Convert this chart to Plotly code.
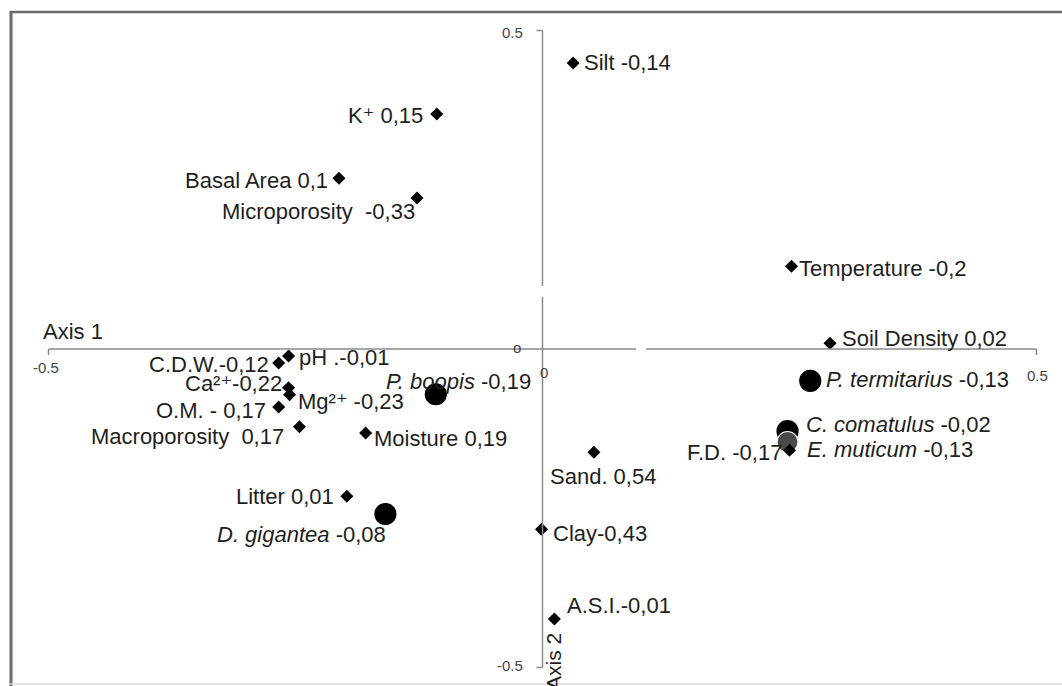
import plotly.graph_objects as go

# Environmental variables (diamonds): ordination scores on axis 1 / axis 2
var_names = ["Silt", "K+", "Basal Area", "Microporosity", "Temperature", "Soil Density",
             "pH", "C.D.W.", "Ca2+", "Mg2+", "O.M.", "Macroporosity", "Moisture",
             "Litter", "Sand", "Clay", "A.S.I.", "F.D."]
var_axis1 = [0.031, -0.107, -0.206, -0.127, 0.252, 0.291,
             -0.257, -0.267, -0.257, -0.256, -0.267, -0.246, -0.179,
             -0.198, 0.052, -0.001, 0.012, 0.250]
var_axis2 = [0.449, 0.369, 0.268, 0.237, 0.130, 0.009,
             -0.011, -0.022, -0.061, -0.072, -0.091, -0.122, -0.132,
             -0.231, -0.162, -0.283, -0.424, -0.159]
var_labels = ["Silt -0,14", "K⁺ 0,15", "Basal Area 0,1", "Microporosity  -0,33",
              "Temperature -0,2", "Soil Density 0,02", "pH .-0,01", "C.D.W.-0,12",
              "Ca²⁺-0,22", "Mg²⁺ -0,23", "O.M. - 0,17",
              "Macroporosity  0,17", "Moisture 0,19", "Litter 0,01", "Sand. 0,54",
              "Clay-0,43", "A.S.I.-0,01", "F.D. -0,17"]

# Species (large dots)
sp_names = ["P. boopis", "D. gigantea", "P. termitarius", "C. comatulus", "E. muticum"]
sp_axis1 = [-0.108, -0.159, 0.271, 0.248, 0.248]
sp_axis2 = [-0.071, -0.259, -0.050, -0.129, -0.146]
sp_labels = ["<i>P. boopis</i> -0,19", "<i>D. gigantea</i> -0,08",
             "<i>P. termitarius</i> -0,13", "<i>C. comatulus</i> -0,02",
             "<i>E. muticum</i> -0,13"]

# Label placement: (anchor, x shift px, y shift px)
var_place = [("left", 9, 0), ("right", -12, -2), ("right", -9, -2), ("right", 0, -13),
             ("left", 6, -2), ("left", 10, 5), ("left", 8, -1), ("right", -8, -1),
             ("right", -5, 4), ("left", 6, -7), ("right", -11, -4), ("right", -13, -10),
             ("left", 6, -5), ("right", -11, 0), ("left", -46, -24), ("left", 9, -4),
             ("left", 11, 14), ("right", -6, -2)]
sp_place = [("right", 97, 13), ("right", 3, -21), ("left", 14, 1),
            ("left", 16, 7), ("left", 17, -7)]

W, H = 1062, 686
FONT = "Liberation Sans, Arial, DejaVu Sans, sans-serif"
AXC = "#8a8a8a"
LBL = 22

fig = go.Figure()

sp_fill = ["black", "black", "black", "black", "#4a4a4a"]
sp_line = ["black", "black", "black", "black", "white"]
fig.add_trace(go.Scatter(
    x=sp_axis1, y=sp_axis2, mode="markers", hoverinfo="text", text=sp_names,
    marker=dict(symbol="circle", size=21, color=sp_fill, line=dict(color=sp_line, width=1.2)),
))
fig.add_trace(go.Scatter(
    x=var_axis1, y=var_axis2, mode="markers", hoverinfo="text", text=var_names,
    marker=dict(symbol="diamond", size=10, color="black"),
))

annotations = []
for xv, yv, lab, (anc, dx, dy) in zip(var_axis1, var_axis2, var_labels, var_place):
    annotations.append(dict(x=xv, y=yv, text=lab, showarrow=False, xanchor=anc, yanchor="middle",
                            xshift=dx, yshift=dy, font=dict(family=FONT, size=LBL, color="#1e1e1e")))
for xv, yv, lab, (anc, dx, dy) in zip(sp_axis1, sp_axis2, sp_labels, sp_place):
    annotations.append(dict(x=xv, y=yv, text=lab, showarrow=False, xanchor=anc, yanchor="middle",
                            xshift=dx, yshift=dy, font=dict(family=FONT, size=LBL, color="#1e1e1e")))

# Tick labels of the crossing axes
tick_font = dict(family=FONT, size=15, color="#444444")
annotations += [
    dict(x=0, y=0.5, text="0.5", showarrow=False, xanchor="right", yanchor="middle", xshift=-18, yshift=-2, font=tick_font),
    dict(x=0, y=-0.5, text="-0.5", showarrow=False, xanchor="right", yanchor="middle", xshift=-18, yshift=2, font=tick_font),
    dict(x=-0.5, y=0, text="-0.5", showarrow=False, xanchor="center", yanchor="middle", xshift=-3, yshift=-18, font=tick_font),
    dict(x=0.5, y=0, text="0.5", showarrow=False, xanchor="center", yanchor="middle", xshift=1, yshift=-26, font=tick_font),
    dict(x=0, y=0, text="0", showarrow=False, xanchor="center", yanchor="middle", xshift=1, yshift=-23, font=tick_font),
    dict(x=0, y=0, text="o", showarrow=False, xanchor="center", yanchor="middle", xshift=-26, yshift=2, font=tick_font),
    dict(x=-0.5, y=0, text="Axis 1", showarrow=False, xanchor="left", yanchor="middle", xshift=-8, yshift=18,
         font=dict(family=FONT, size=22, color="#1e1e1e")),
    dict(x=0, y=-0.5, text="Axis 2", showarrow=False, xanchor="center", yanchor="middle", textangle=-90,
         xshift=11, yshift=6, font=dict(family=FONT, size=21, color="#1e1e1e")),
]

axis_line = dict(color=AXC, width=1.5)
shapes = [
    # crossing axes (each with a small break, as in the original figure)
    dict(type="line", xref="x", yref="y", x0=-0.5, x1=0.0946, y0=0, y1=0, line=axis_line),
    dict(type="line", xref="x", yref="y", x0=0.1047, x1=0.5, y0=0, y1=0, line=axis_line),
    dict(type="line", xref="x", yref="y", x0=0, x1=0, y0=-0.5, y1=0.082, line=axis_line),
    dict(type="line", xref="x", yref="y", x0=0, x1=0, y0=0.099, y1=0.5, line=axis_line),
    # end ticks
    dict(type="line", xref="x", yref="y", ysizemode="pixel", yanchor=0, x0=-0.5, x1=-0.5, y0=0, y1=-6, line=axis_line),
    dict(type="line", xref="x", yref="y", ysizemode="pixel", yanchor=0, x0=0.5, x1=0.5, y0=0, y1=-6, line=axis_line),
    dict(type="line", xref="x", yref="y", xsizemode="pixel", xanchor=0, x0=0, x1=-6, y0=0.5, y1=0.5, line=axis_line),
    dict(type="line", xref="x", yref="y", xsizemode="pixel", xanchor=0, x0=0, x1=-6, y0=-0.5, y1=-0.5, line=axis_line),
    # outer frame
    dict(type="line", xref="paper", yref="paper", x0=11 / W, x1=11 / W, y0=0, y1=1 - 11 / H, line=dict(color="#6a6a6a", width=3)),
    dict(type="line", xref="paper", yref="paper", x0=10 / W, x1=1, y0=1 - 12 / H, y1=1 - 12 / H, line=dict(color="#6a6a6a", width=2.5)),
    dict(type="line", xref="paper", yref="paper", x0=10 / W, x1=1, y0=1 - 684 / H, y1=1 - 684 / H, line=dict(color="#d8d8d8", width=1.5)),
]

ox, sx = 542.5, 988.0
oy, sy = 349.0, 637.0
fig.update_layout(
    width=W, height=H, margin=dict(l=0, r=0, t=0, b=0),
    paper_bgcolor="white", plot_bgcolor="white", showlegend=False,
    xaxis=dict(range=[-ox / sx, (W - ox) / sx], visible=False, fixedrange=True),
    yaxis=dict(range=[(oy - H) / sy, oy / sy], visible=False, fixedrange=True),
    annotations=annotations, shapes=shapes,
)

fig.write_html("out.html")
